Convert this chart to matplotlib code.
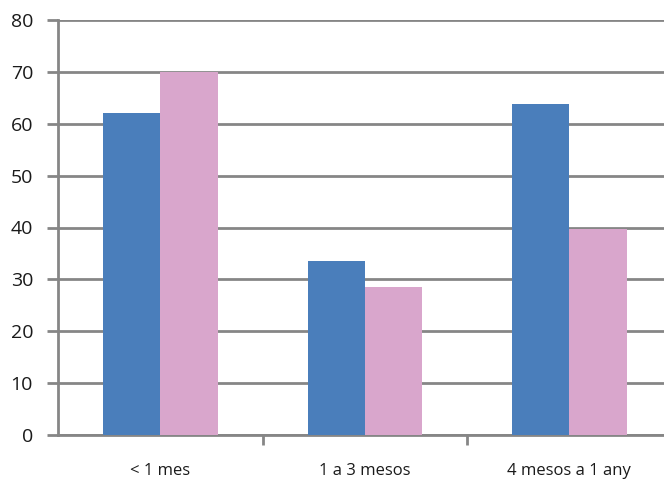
import matplotlib.pyplot as plt
import numpy as np

categories = ["< 1 mes", "1 a 3 mesos", "4 mesos a 1 any"]
serie_blava = [62, 33.6, 63.8]
serie_rosa = [70, 28.6, 39.7]

plt.rcParams["font.family"] = ["Open Sans", "DejaVu Sans"]

fig = plt.figure(figsize=(6.64, 4.84), dpi=100)
ax = fig.add_axes([58 / 664, 49 / 484, 1 - 58 / 664, 415 / 484])

x = np.arange(len(categories))
w = 0.28
ax.bar(x - w / 2, serie_blava, width=w, color="#4a7ebb", zorder=3)
ax.bar(x + w / 2, serie_rosa, width=w, color="#d9a6cc", zorder=3)

ax.set_xlim(-0.5, 2.463)
ax.set_ylim(0, 80)
ax.set_yticks(range(0, 81, 10))
ax.yaxis.grid(True, color="#868686", linewidth=2, zorder=0)
ax.set_axisbelow(True)

for s in ["top", "right"]:
    ax.spines[s].set_visible(False)
for s in ["left", "bottom"]:
    ax.spines[s].set_color("#868686")
    ax.spines[s].set_linewidth(2)

ax.set_xticks([0.5, 1.5])
ax.set_xticklabels([])
ax.set_xticks(x, minor=True)
ax.set_xticklabels(categories, minor=True, fontsize=12, color="#1a1a1a")
ax.tick_params(axis="x", which="major", length=7, width=2, color="#868686")
ax.tick_params(axis="x", which="minor", length=0, pad=20)
ax.tick_params(axis="y", length=8, width=2, color="#868686", labelsize=14,
               labelcolor="#1a1a1a", pad=10)

fig.savefig("out.png", dpi=100)
